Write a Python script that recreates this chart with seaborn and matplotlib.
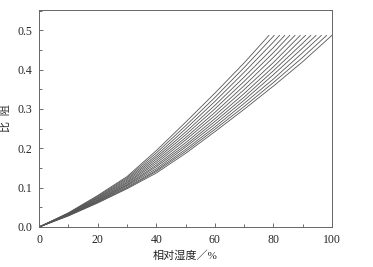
import matplotlib
matplotlib.use("Agg")
import matplotlib.pyplot as plt
import pandas as pd
import seaborn as sns
from matplotlib.ticker import FormatStrFormatter, MultipleLocator

# Relative humidity grid (%) and the end point of each curve
rh_grid = [0, 10, 20, 30, 40, 50, 60, 70, 80, 90]
end_rh = [78.5, 80.3, 82.1, 83.9, 85.6, 87.4, 89.2, 91.0, 92.8, 94.6, 96.4, 98.2, 100.0]
end_ratio = 0.487

# Specific resistance, one list per curve (values on rh_grid below end_rh)
curve_01 = [0, 0.036, 0.080, 0.128, 0.194, 0.266, 0.340, 0.417]
curve_02 = [0, 0.035, 0.078, 0.125, 0.188, 0.257, 0.329, 0.405]
curve_03 = [0, 0.034, 0.076, 0.122, 0.182, 0.249, 0.319, 0.393, 0.470]
curve_04 = [0, 0.034, 0.074, 0.119, 0.177, 0.241, 0.309, 0.381, 0.456]
curve_05 = [0, 0.033, 0.073, 0.116, 0.172, 0.234, 0.300, 0.370, 0.443]
curve_06 = [0, 0.032, 0.071, 0.113, 0.167, 0.227, 0.291, 0.359, 0.431]
curve_07 = [0, 0.032, 0.069, 0.111, 0.162, 0.221, 0.283, 0.349, 0.418]
curve_08 = [0, 0.031, 0.068, 0.108, 0.157, 0.214, 0.275, 0.339, 0.407, 0.480]
curve_09 = [0, 0.030, 0.066, 0.106, 0.153, 0.208, 0.268, 0.330, 0.397, 0.467]
curve_10 = [0, 0.030, 0.065, 0.104, 0.148, 0.203, 0.261, 0.322, 0.387, 0.455]
curve_11 = [0, 0.029, 0.064, 0.101, 0.144, 0.197, 0.254, 0.314, 0.376, 0.443]
curve_12 = [0, 0.029, 0.062, 0.099, 0.141, 0.192, 0.248, 0.306, 0.367, 0.431]
curve_13 = [0, 0.028, 0.061, 0.097, 0.137, 0.187, 0.242, 0.299, 0.358, 0.420]

curves = [curve_01, curve_02, curve_03, curve_04, curve_05, curve_06, curve_07,
          curve_08, curve_09, curve_10, curve_11, curve_12, curve_13]

rows = []
for i, vals in enumerate(curves):
    for x, y in zip(rh_grid, vals):
        rows.append({"curve": i, "rh": x, "ratio": y})
    rows.append({"curve": i, "rh": end_rh[i], "ratio": end_ratio})
df = pd.DataFrame(rows)

sns.set_style("ticks")
plt.rcParams["font.family"] = ["Liberation Serif", "Noto Sans CJK SC"]

fig = plt.figure(figsize=(3.73, 2.67), dpi=100)
ax = fig.add_axes([0.105, 0.150, 0.785, 0.812])

sns.lineplot(data=df, x="rh", y="ratio", hue="curve", units="curve",
             estimator=None, sort=False, palette=["#555555"] * len(curves),
             linewidth=0.6, legend=False, ax=ax)

ax.set_xlim(0, 100)
ax.set_ylim(0, 0.551)
ax.xaxis.set_major_locator(MultipleLocator(20))
ax.xaxis.set_minor_locator(MultipleLocator(10))
ax.yaxis.set_major_locator(MultipleLocator(0.1))
ax.yaxis.set_minor_locator(MultipleLocator(0.05))
ax.yaxis.set_major_formatter(FormatStrFormatter("%.1f"))
ax.tick_params(which="both", direction="in", top=False, right=False,
               labelsize=8.5, color="#555555", width=0.6, pad=5)
ax.tick_params(which="major", length=3)
ax.tick_params(which="minor", length=2)
for s in ax.spines.values():
    s.set_linewidth(0.7)
    s.set_color("#666666")
    s.set_visible(True)

ax.set_xlabel("相对湿度／%", fontsize=8, labelpad=3)
ax.set_ylabel("比  阻", fontsize=8, labelpad=5)

fig.savefig("out.png", dpi=100)
